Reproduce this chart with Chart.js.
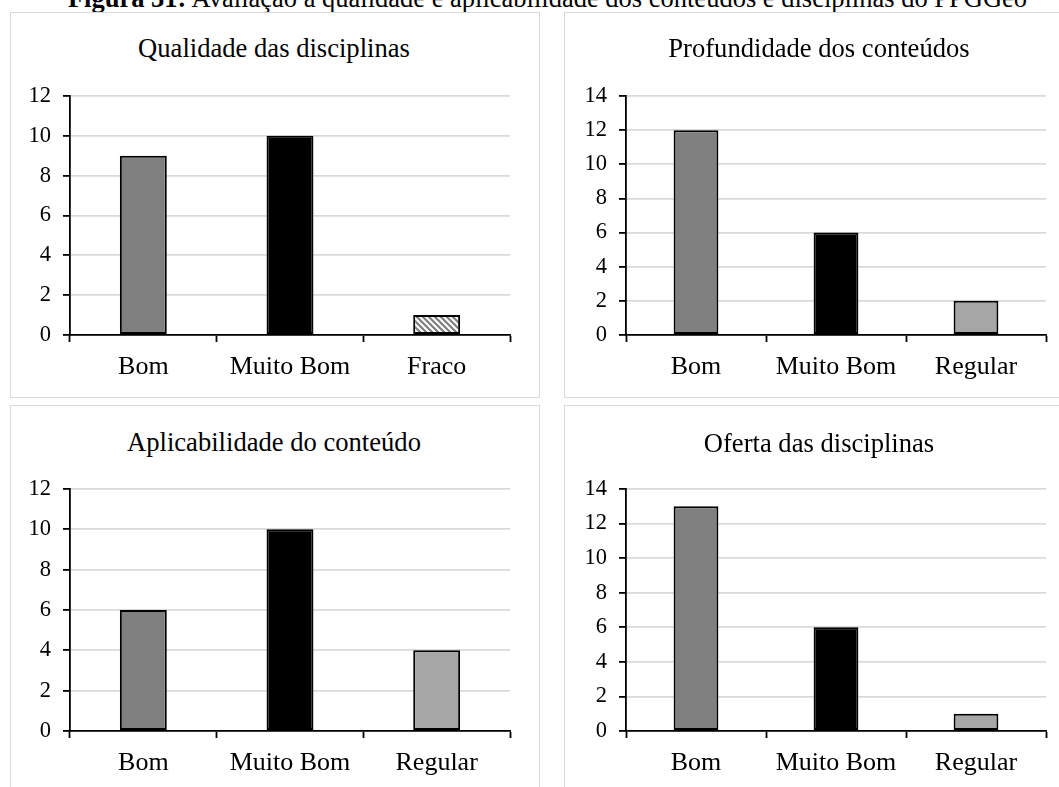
<!DOCTYPE html>
<html lang="pt">
<head>
<meta charset="utf-8">
<title>Figura 31</title>
<script src="https://cdn.jsdelivr.net/npm/chart.js@4.4.1/dist/chart.umd.min.js"></script>
<style>
  html, body { margin: 0; padding: 0; background: #fff; overflow: hidden; }
  body { width: 1059px; height: 787px; position: relative;
         font-family: 'Liberation Serif', 'Times New Roman', serif; color: #000; }
  .fig-title { position: absolute; left: 0; width: 1095px; top: -15px; text-align: center;
               font-size: 26.5px; line-height: 26px; white-space: nowrap; }
  .panel { position: absolute; border: 1.5px solid #d9d9d9; box-sizing: border-box; }
  .panel-title { position: absolute; width: 600px; text-align: center;
                 font-size: 26.6px; line-height: 26px; white-space: nowrap; }
  canvas { position: absolute; }
</style>
</head>
<body>

<div class="fig-title"><b>Figura 31:</b> Avaliação à qualidade e aplicabilidade dos conteúdos e disciplinas do PPGGeo</div>

<script>
/* ── DADOS ─────────────────────────────────────────────────── */
const catQualidade     = ['Bom', 'Muito Bom', 'Fraco'];
const valQualidade     = [9, 10, 1];
const maxQualidade     = 12;

const catProfundidade  = ['Bom', 'Muito Bom', 'Regular'];
const valProfundidade  = [12, 6, 2];
const maxProfundidade  = 14;

const catAplicabilidade = ['Bom', 'Muito Bom', 'Regular'];
const valAplicabilidade = [6, 10, 4];
const maxAplicabilidade = 12;

const catOferta        = ['Bom', 'Muito Bom', 'Regular'];
const valOferta        = [13, 6, 1];
const maxOferta        = 14;

const yStep = 2;

/* ── ESTILO ────────────────────────────────────────────────── */
const SERIF = "'Liberation Serif', 'Times New Roman', serif";
const GRID  = '#dadada';

// padrão listrado para "Fraco"
function hatchPattern() {
  const c = document.createElement('canvas');
  c.width = 6; c.height = 6;
  const g = c.getContext('2d');
  g.fillStyle = '#fff';
  g.fillRect(0, 0, 6, 6);
  g.strokeStyle = '#7f7f7f';
  g.lineWidth = 2.2;
  g.beginPath();
  g.moveTo(-1, -1); g.lineTo(7, 7);
  g.moveTo(-4, 2);  g.lineTo(4, 10);
  g.moveTo(2, -4);  g.lineTo(10, 4);
  g.stroke();
  return g.createPattern(c, 'repeat');
}

const barColors = {
  'Bom': '#808080',
  'Muito Bom': '#000000',
  'Regular': '#a6a6a6',
};

function colorFor(cat) {
  return cat === 'Fraco' ? hatchPattern() : barColors[cat];
}

/* ── PAINÉIS ───────────────────────────────────────────────── */
const panels = [
  { title: 'Qualidade das disciplinas', labels: catQualidade, values: valQualidade, max: maxQualidade,
    box: { x: 10,  y: 12,  w: 530, h: 386 }, cw: 530, ch: 386,
    plot: { l: 70,  t: 96,  r: 510,  b: 335 }, tx: 274, tb: 57 },
  { title: 'Profundidade dos conteúdos', labels: catProfundidade, values: valProfundidade, max: maxProfundidade,
    box: { x: 564, y: 12,  w: 530, h: 386 }, cw: 510, ch: 386,
    plot: { l: 626, t: 96,  r: 1046, b: 335 }, tx: 819, tb: 57 },
  { title: 'Aplicabilidade do conteúdo', labels: catAplicabilidade, values: valAplicabilidade, max: maxAplicabilidade,
    box: { x: 10,  y: 405, w: 530, h: 400 }, cw: 530, ch: 382,
    plot: { l: 70,  t: 489, r: 510,  b: 731 }, tx: 274, tb: 451 },
  { title: 'Oferta das disciplinas', labels: catOferta, values: valOferta, max: maxOferta,
    box: { x: 564, y: 405, w: 530, h: 400 }, cw: 510, ch: 382,
    plot: { l: 626, t: 489, r: 1046, b: 731 }, tx: 819, tb: 452 },
];

panels.forEach(p => {
  const box = document.createElement('div');
  box.className = 'panel';
  Object.assign(box.style, {
    left: p.box.x + 'px', top: p.box.y + 'px',
    width: p.box.w + 'px', height: p.box.h + 'px'
  });
  document.body.appendChild(box);

  const t = document.createElement('div');
  t.className = 'panel-title';
  t.textContent = p.title;
  t.style.left = (p.tx - 300) + 'px';
  t.style.top  = (p.tb - 22) + 'px';
  document.body.appendChild(t);

  const cv = document.createElement('canvas');
  cv.width = p.cw; cv.height = p.ch;
  cv.style.left = p.box.x + 'px';
  cv.style.top  = p.box.y + 'px';
  cv.style.width = p.cw + 'px';
  cv.style.height = p.ch + 'px';
  document.body.appendChild(cv);

  const yWidth  = p.plot.l - p.box.x;
  const xHeight = p.ch - (p.plot.b - p.box.y);

  new Chart(cv, {
    type: 'bar',
    data: {
      labels: p.labels,
      datasets: [{
        data: p.values,
        backgroundColor: p.labels.map(colorFor),
        borderColor: '#000',
        borderWidth: 2,
        borderSkipped: false,
        categoryPercentage: 1,
        barPercentage: 0.32,
      }]
    },
    options: {
      responsive: false,
      animation: false,
      devicePixelRatio: 1,
      layout: {
        padding: { top: p.plot.t - p.box.y, left: 0, bottom: 0, right: p.cw - (p.plot.r - p.box.x) }
      },
      plugins: {
        legend:  { display: false },
        tooltip: { enabled: false },
        title:   { display: false },
      },
      scales: {
        x: {
          afterFit: s => { s.height = xHeight; },
          grid: {
            offset: true, drawOnChartArea: false,
            tickLength: 7, tickColor: '#000', tickWidth: 1.8,
          },
          border: { color: '#000', width: 1.8 },
          ticks: { font: { family: SERIF, size: 26 }, color: '#000', padding: 10 },
        },
        y: {
          min: 0, max: p.max,
          afterFit: s => { s.width = yWidth; },
          grid: { color: GRID, lineWidth: 1.8, tickLength: 7, tickColor: '#000', tickWidth: 1.8 },
          border: { color: '#000', width: 1.8 },
          ticks: { stepSize: yStep, font: { family: SERIF, size: 22.5 }, color: '#000', padding: 12 },
        }
      }
    }
  });
});
</script>
</body>
</html>
